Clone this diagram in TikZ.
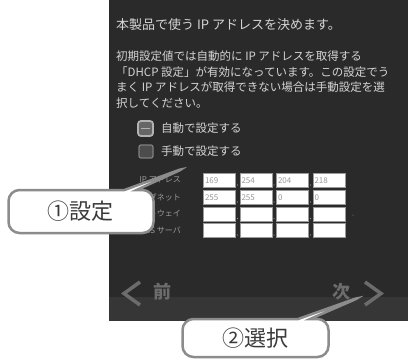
\documentclass[tikz,border=0pt]{standalone}
\usepackage{fontspec}
\setmainfont{Noto Sans CJK JP}
\usetikzlibrary{shapes.callouts}

\definecolor{pantalla}{HTML}{2A2A2A}
\definecolor{franja}{HTML}{363636}
\definecolor{textoclaro}{HTML}{D4D4D4}
\definecolor{textogris}{HTML}{9A9A9A}
\definecolor{boton}{HTML}{6C6C6C}
\definecolor{bordeglobo}{HTML}{8C8C8C}
\definecolor{textoglobo}{HTML}{3A3A3A}

\begin{document}
\begin{tikzpicture}[x=1pt, y=-1pt,
    linea/.style={anchor=west, inner sep=0pt, text=textoclaro, font=\fontsize{11.5}{12}\selectfont},
    etiqueta/.style={anchor=east, inner sep=0pt, text=textogris, font=\fontsize{8}{9}\selectfont},
    campo/.style={draw=textogris, line width=1pt, fill=white, anchor=north west, inner sep=1.5pt,
        text width=29pt, minimum height=14pt, align=left, text=textogris, font=\fontsize{8}{9}\selectfont},
    globo/.style={rectangle callout, rounded corners=11pt, draw=bordeglobo, line width=2.5pt, fill=white,
        callout pointer width=12pt, text=textoglobo, font=\fontsize{22}{24}\selectfont},
    flecha/.style={boton, line width=3.5pt}]
    \useasboundingbox (0,0) rectangle (408,359);

    % Pantalla
    \fill[pantalla] (109,0) rectangle (408,321);
    \fill[franja] (109,297) rectangle (408,321);

    % Textos
    \node[linea, font=\fontsize{13}{14}\selectfont] (titulo) at (116,25) {本製品で使う IP アドレスを決めます。};
    \node[linea] (linea1) at (116,56.5) {初期設定値では自動的に IP アドレスを取得する};
    \node[linea] (linea2) at (116,72) {「DHCP 設定」が有効になっています。この設定でう};
    \node[linea] (linea3) at (116,87.5) {まく IP アドレスが取得できない場合は手動設定を選};
    \node[linea] (linea4) at (116,103) {択してください。};

    % Casillas
    \draw[rounded corners=3pt, draw=gray!60, fill=gray!80!black, line width=1.8pt] (138,121) rectangle (153,136);
    \draw[gray!60, line width=1.5pt] (141,128.5) -- (150,128.5);
    \draw[rounded corners=2pt, draw=gray, fill=gray!60!black, line width=1.2pt] (139,145) rectangle (153,158);
    \node[linea] (opcionA) at (161,128) {自動で設定する};
    \node[linea] (opcionB) at (161,151.5) {手動で設定する};

    % Etiquetas
    \node[etiqueta] (etiq1) at (181,180) {IP アドレス};
    \node[etiqueta] (etiq2) at (181,197) {サブネット};
    \node[etiqueta] (etiq3) at (181,213.5) {ゲートウェイ};
    \node[etiqueta] (etiq4) at (181,230) {DNS サーバ};

    % Campos
    \foreach \c/\a/\b in {1/169/255, 2/254/255, 3/204/0, 4/218/0} {
        \node[campo] (campo1\c) at ({203+(\c-1)*36.5},173) {\a};
        \node[campo] (campo2\c) at ({203+(\c-1)*36.5},190) {\b};
        \node[campo] (campo3\c) at ({203+(\c-1)*36.5},206.5) {};
        \node[campo] (campo4\c) at ({203+(\c-1)*36.5},223) {};
    }
    % Puntos
    \foreach \f/\y in {1/185, 2/202, 3/218.5, 4/235}
        \foreach \c in {1,2,3}
            \fill[textogris] ({237.5+(\c-1)*36.5},\y) circle (0.6);
    \fill[textogris] (353,215) circle (0.5);

    % Botones
    \draw[flecha] (140,282) -- (124,293.5) -- (140,305);
    \node[text=boton, font=\fontsize{18}{18}\bfseries] (botonAtras) at (162,292) {前};
    \node[text=boton, font=\fontsize{18}{18}\bfseries] (botonSig) at (341,292) {次};
    \draw[flecha] (365,282) -- (381,293.5) -- (365,305);

    % Globos
    \coordinate (puntaA) at (187,167);
    \coordinate (puntaB) at (363,296);
    \node[globo, minimum width=145pt, minimum height=43pt, callout absolute pointer={(puntaA)}] (globoA) at (81,211.5) {①設定};
    \node[globo, minimum width=146pt, minimum height=38pt, callout absolute pointer={(puntaB)}] (globoB) at (255.5,338) {②選択};
\end{tikzpicture}
\end{document}
